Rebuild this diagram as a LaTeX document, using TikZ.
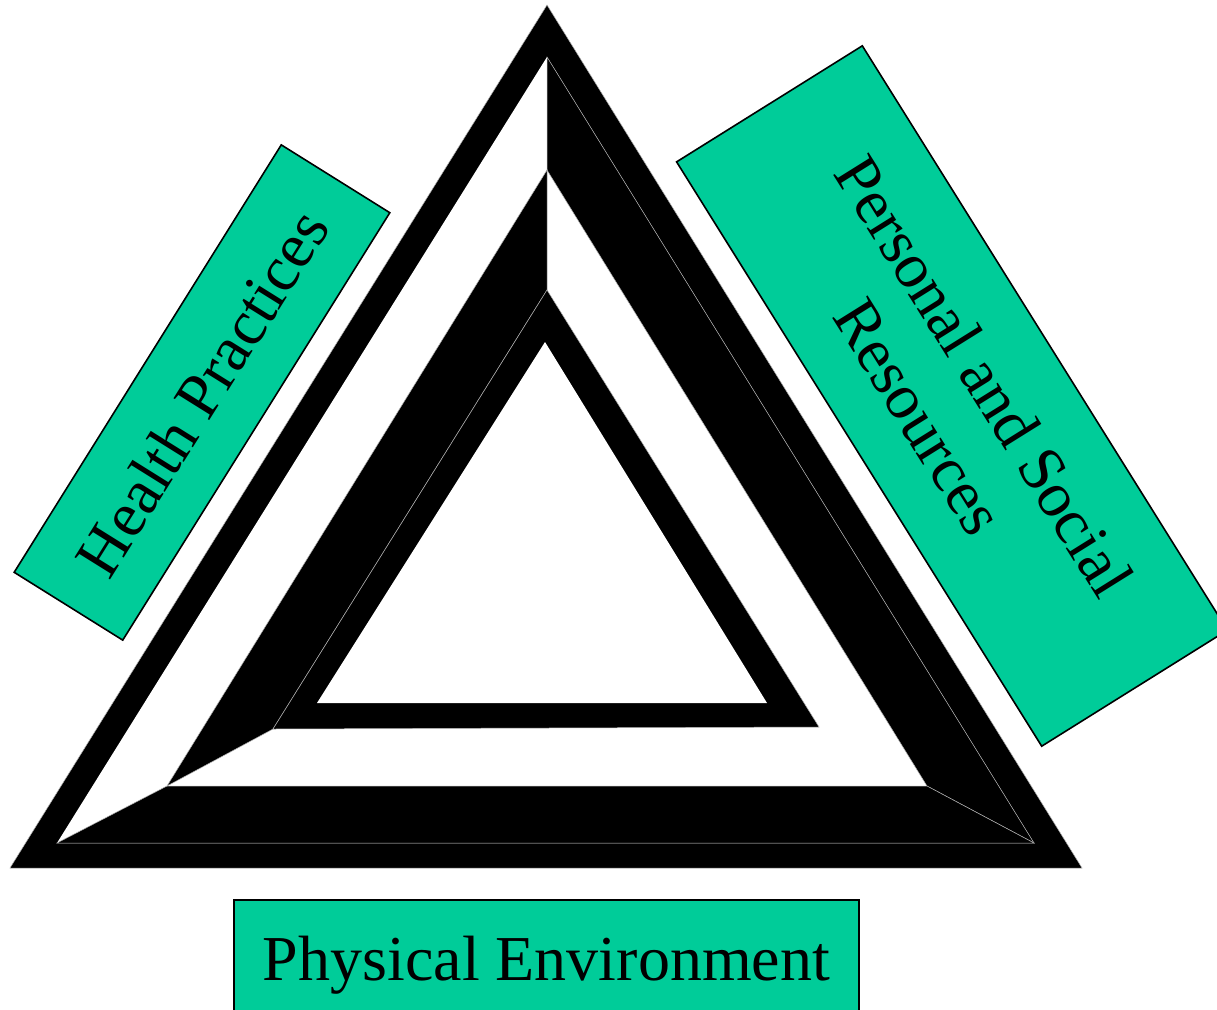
\documentclass[tikz,border=0pt]{standalone}
\usepackage{fontspec}
\setmainfont{Liberation Serif}
\definecolor{boxgreen}{RGB}{0,204,153}
\begin{document}
\begin{tikzpicture}[x=1pt,y=-1pt,
  band/.style={fill=black, draw=gray!60, line width=0.5pt, line join=miter},
  hole/.style={fill=white},
  greenbox/.style={fill=boxgreen, draw=black, line width=1.6pt, inner sep=0pt,
    font=\fontsize{64}{77}\selectfont, align=center}]
\useasboundingbox (0,0) rectangle (1217,1009);
\fill[white] (0,0) rectangle (1217,1009);
% outer band
\filldraw[band] (547,5) -- (10,868) -- (1082,868) -- cycle;
\fill[hole] (547,57) -- (57,843) -- (1034,843) -- cycle;
% right band
\filldraw[band] (547,57) -- (1034,843) -- (927,786) -- (547,170) -- cycle;
% bottom band
\filldraw[band] (57,843) -- (1034,843) -- (927,786) -- (167,786) -- cycle;
% left band
\filldraw[band] (547,170) -- (167,786) -- (273,729) -- (547,290) -- cycle;
% inner triangle
\filldraw[band] (547,290) -- (273,729) -- (819,727) -- cycle;
\fill[hole] (545,342) -- (317,703) -- (767,703) -- cycle;
% labels
\node[greenbox, rotate=58, minimum width=504pt, minimum height=128pt] (health) at (202,392.5) {Health Practices};
\node[greenbox, rotate=-58, minimum width=689pt, minimum height=219pt] (personal) at (952,396) {Personal and Social\\Resources};
\node[greenbox, minimum width=625pt, minimum height=130pt] (physical) at (546.5,965) {Physical Environment};
\end{tikzpicture}
\end{document}
